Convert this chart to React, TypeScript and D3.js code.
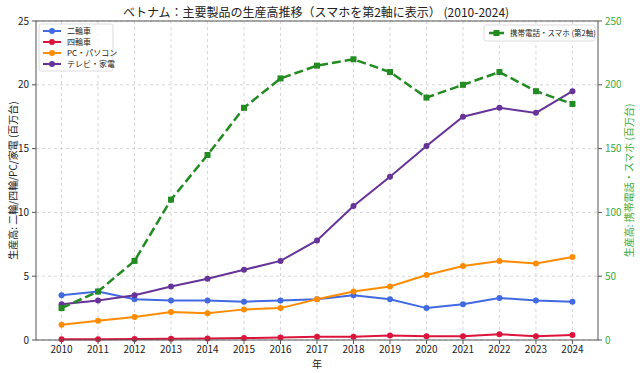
import React from 'react';
import * as d3 from 'd3';

const years = [2010, 2011, 2012, 2013, 2014, 2015, 2016, 2017, 2018, 2019, 2020, 2021, 2022, 2023, 2024];
const motorbikes = [3.5, 3.8, 3.2, 3.1, 3.1, 3.0, 3.1, 3.2, 3.5, 3.2, 2.5, 2.8, 3.3, 3.1, 3.0];
const cars = [0.05, 0.06, 0.08, 0.1, 0.12, 0.15, 0.2, 0.25, 0.25, 0.35, 0.3, 0.3, 0.45, 0.3, 0.4];
const pcs = [1.2, 1.5, 1.8, 2.2, 2.1, 2.4, 2.5, 3.2, 3.8, 4.2, 5.1, 5.8, 6.2, 6.0, 6.5];
const tvs = [2.8, 3.1, 3.5, 4.2, 4.8, 5.5, 6.2, 7.8, 10.5, 12.8, 15.2, 17.5, 18.2, 17.8, 19.5];
const phones = [25, 38, 62, 110, 145, 182, 205, 215, 220, 210, 190, 200, 210, 195, 185];

const leftTicks = [0, 5, 10, 15, 20, 25];
const rightTicks = [0, 50, 100, 150, 200, 250];

const series = [
	{ name: '二輪車', values: motorbikes, color: '#4169E1' },
	{ name: '四輪車', values: cars, color: '#DC143C' },
	{ name: 'PC・パソコン', values: pcs, color: '#FF8C00' },
	{ name: 'テレビ・家電', values: tvs, color: '#663399' },
];
const phoneName = '携帯電話・スマホ (第2軸)';
const green = '#228B22';
const tickGreen = '#3cab3c';

const font = '"Noto Sans CJK JP", "Noto Sans", sans-serif';

const App = () => {
	const svgWidth = 640;
	const svgHeight = 373;
	const margin = { top: 21, right: 42, bottom: 33, left: 36 };
	const width = svgWidth - margin.left - margin.right;
	const height = svgHeight - margin.top - margin.bottom;

	const xScale = d3.scaleLinear().domain([2009.3, 2024.7]).range([0, width]);
	const yScale = d3.scaleLinear().domain([0, 25]).range([height, 0]);
	const y2Scale = d3.scaleLinear().domain([0, 250]).range([height, 0]);

	const line = (vals: number[], ys: d3.ScaleLinear<number, number>) =>
		d3
			.line<number>()
			.x((d, i) => xScale(years[i]))
			.y((d) => ys(d))(vals) || '';

	return (
		<svg width={svgWidth} height={svgHeight} style={{ position: 'absolute', left: 0, top: 0, fontFamily: font }}>
			<rect width={svgWidth} height={svgHeight} fill='white' />
			{/* title */}
			<text x={316} y={17} textAnchor='middle' fontSize={12} fill='#222'>
				ベトナム：主要製品の生産高推移（スマホを第2軸に表示） (2010-2024)
			</text>
			<g transform={`translate(${margin.left},${margin.top})`}>
				{/* grid */}
				{leftTicks.map((v) => (
					<line key={'gy' + v} x1={0} x2={width} y1={yScale(v)} y2={yScale(v)} stroke='#ccc' strokeWidth={0.8} strokeDasharray='3,3' />
				))}
				{years.map((v) => (
					<line key={'gx' + v} x1={xScale(v)} x2={xScale(v)} y1={0} y2={height} stroke='#ccc' strokeWidth={0.8} strokeDasharray='3,3' />
				))}
				{/* left series */}
				{series.map((s) => (
					<g key={s.name}>
						<path d={line(s.values, yScale)} fill='none' stroke={s.color} strokeWidth={2} />
						{s.values.map((v, i) => (
							<circle key={i} cx={xScale(years[i])} cy={yScale(v)} r={3} fill={s.color} />
						))}
					</g>
				))}
				{/* phones on second axis */}
				<path d={line(phones, y2Scale)} fill='none' stroke={green} strokeWidth={2.5} strokeDasharray='9,4' />
				{phones.map((v, i) => (
					<rect key={i} x={xScale(years[i]) - 3} y={y2Scale(v) - 3} width={6} height={6} fill={green} />
				))}
				{/* frame */}
				<rect x={0} y={0} width={width} height={height} fill='none' stroke='#555' strokeWidth={1} />
				{/* left axis */}
				{leftTicks.map((v) => (
					<g key={'ly' + v} transform={`translate(0,${yScale(v)})`}>
						<line x1={-4} x2={0} stroke='#555' />
						<text x={-7} dy='0.35em' textAnchor='end' fontSize={10} fill='#222'>
							{v}
						</text>
					</g>
				))}
				{/* right axis */}
				{rightTicks.map((v) => (
					<g key={'ry' + v} transform={`translate(${width},${y2Scale(v)})`}>
						<line x1={0} x2={4} stroke='#555' />
						<text x={7} dy='0.35em' textAnchor='start' fontSize={10} fill={tickGreen}>
							{v}
						</text>
					</g>
				))}
				{/* x axis */}
				{years.map((v) => (
					<g key={'xt' + v} transform={`translate(${xScale(v)},${height})`}>
						<line y1={0} y2={4} stroke='#555' />
						<text y={13} textAnchor='middle' fontSize={10} fill='#222'>
							{v}
						</text>
					</g>
				))}
				<text x={width / 2} y={height + 28} textAnchor='middle' fontSize={10} fill='#222'>
					年
				</text>
				<text transform={`translate(-19,${height / 2}) rotate(-90)`} textAnchor='middle' fontSize={10} fill='#222'>
					生産高: 二輪/四輪/PC/家電 (百万台)
				</text>
				<text transform={`translate(${width + 35},${height / 2}) rotate(-90)`} textAnchor='middle' fontSize={10} fill={tickGreen}>
					生産高: 携帯電話・スマホ (百万台)
				</text>
				{/* left legend */}
				<g transform='translate(3,3)'>
					<rect width={74} height={47} rx={2} fill='white' fillOpacity={0.85} stroke='#ddd' />
					{series.map((s, i) => (
						<g key={s.name} transform={`translate(0,${7 + i * 11})`}>
							<line x1={4} x2={22} stroke={s.color} strokeWidth={2} />
							<circle cx={13} cy={0} r={3} fill={s.color} />
							<text x={28} dy='0.35em' fontSize={8} fill='#222'>
								{s.name}
							</text>
						</g>
					))}
				</g>
				{/* right legend */}
				<g transform={`translate(${width - 114},4)`}>
					<rect width={111} height={16} rx={2} fill='white' fillOpacity={0.85} stroke='#ddd' />
					<line x1={5} x2={20} y1={8} y2={8} stroke={green} strokeWidth={2.5} strokeDasharray='6,3' />
					<rect x={9.5} y={5} width={6} height={6} fill={green} />
					<text x={26} y={8} dy='0.35em' fontSize={7.5} fill='#222'>
						{phoneName}
					</text>
				</g>
			</g>
		</svg>
	);
};

export default App;
